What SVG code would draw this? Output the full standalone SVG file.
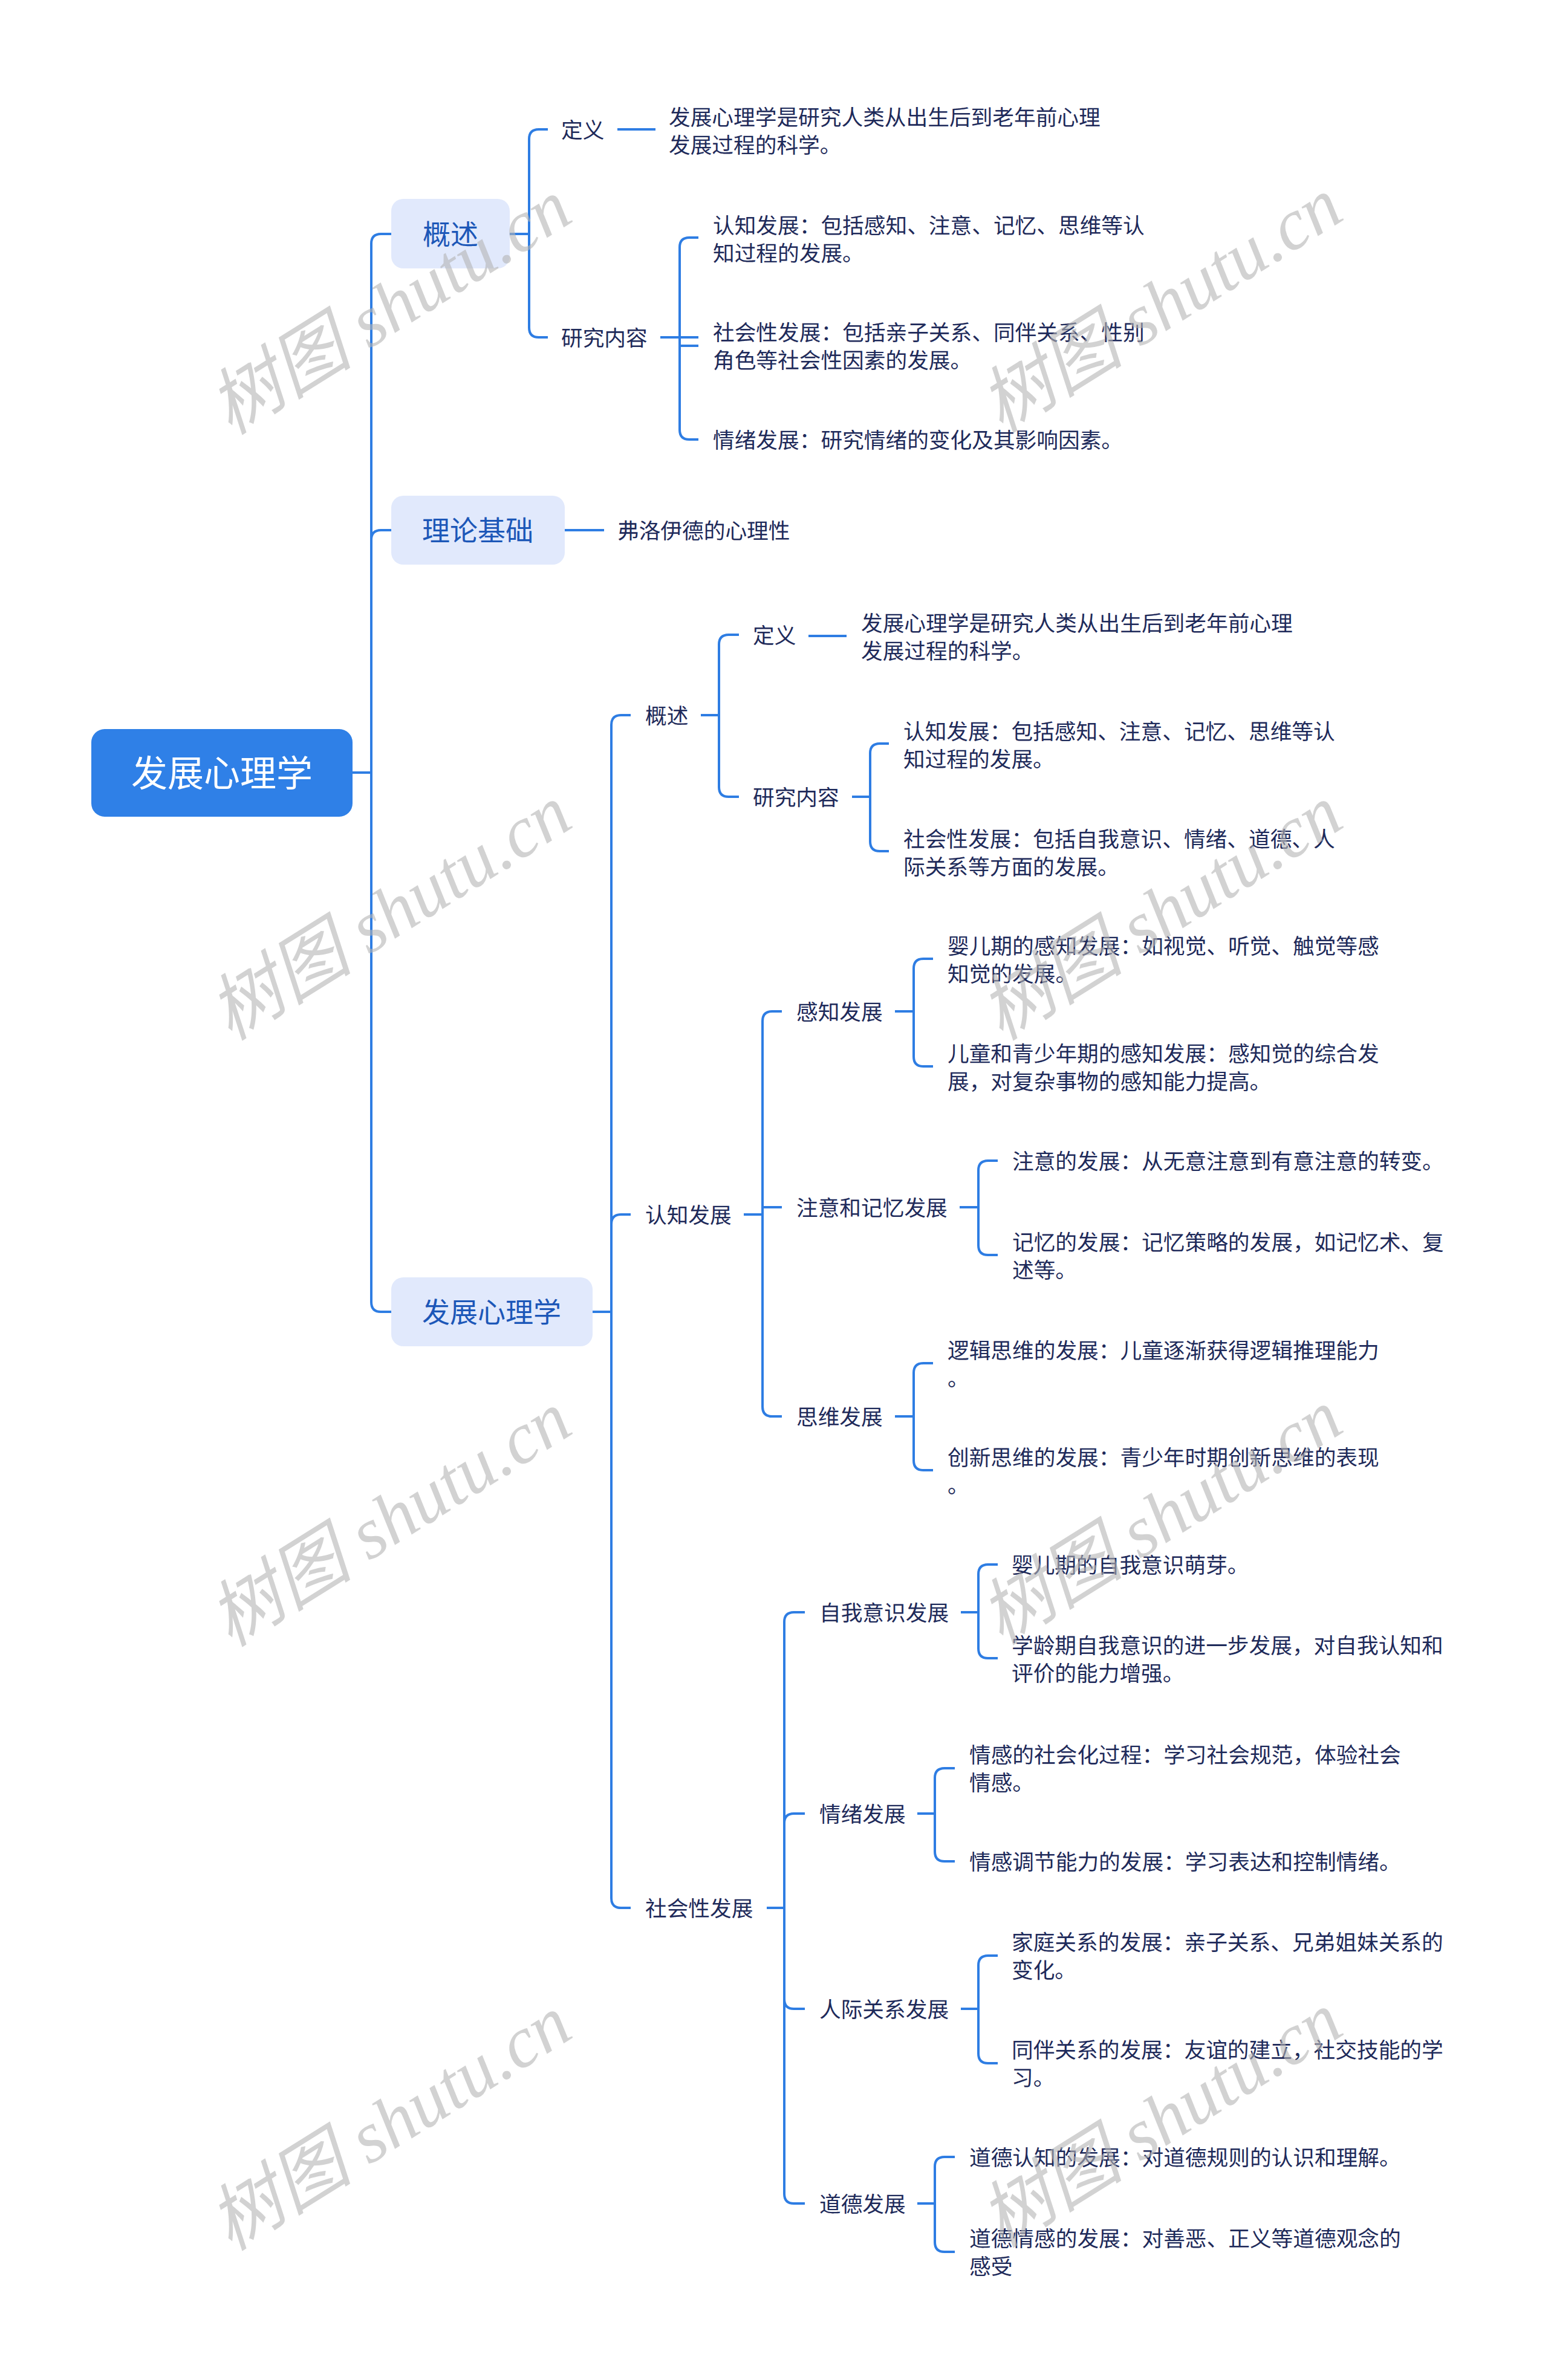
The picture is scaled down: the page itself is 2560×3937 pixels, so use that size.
<svg xmlns="http://www.w3.org/2000/svg" width="2560" height="3937" viewBox="0 0 2560 3937">
<style>
text{font-family:"Noto Sans CJK SC","Noto Sans",sans-serif;dominant-baseline:central}
.root{font-size:60px;fill:#ffffff;text-anchor:middle;transform:translate(0px,-4px)}
.l1{font-size:46px;fill:#1c57b8;text-anchor:middle;transform:translate(0px,-3px)}
.t{font-size:35.7px;fill:#1e2a5a;transform:translate(0px,-2px)}
.c{fill:none;stroke:#2e7de3;stroke-width:4;stroke-linecap:butt}
.wm{font-family:"Liberation Serif","Noto Sans CJK SC",serif;font-style:italic;font-size:120px;fill:#b4b4b4;fill-opacity:0.6;text-anchor:middle}
</style>
<rect width="2560" height="3937" fill="#ffffff"/>
<g id="connectors" class="c">
<path d="M583,1278 H614"/>
<path d="M614,1278 V403 Q614,387 630,387 H647"/>
<path d="M614,1278 V893 Q614,877 630,877 H647"/>
<path d="M614,1278 V2154 Q614,2170 630,2170 H647"/>
<path d="M843,387 H875"/>
<path d="M875,387 V230 Q875,214 891,214 H906"/>
<path d="M875,387 V542 Q875,558 891,558 H906"/>
<path d="M1021,214 H1084"/>
<path d="M1092,558 H1124"/>
<path d="M1124,558 V409 Q1124,393 1140,393 H1155"/>
<path d="M1124,558 H1155 M1124,558 V572 H1155"/>
<path d="M1124,558 V711 Q1124,727 1140,727 H1155"/>
<path d="M934,877 H999"/>
<path d="M980,2170 H1011"/>
<path d="M1011,2170 V1199 Q1011,1183 1027,1183 H1043"/>
<path d="M1011,2170 V2025 Q1011,2009 1027,2009 H1043"/>
<path d="M1011,2170 V3140 Q1011,3156 1027,3156 H1043"/>
<path d="M1159,1183 H1189"/>
<path d="M1189,1183 V1066 Q1189,1050 1205,1050 H1222"/>
<path d="M1189,1183 V1302 Q1189,1318 1205,1318 H1222"/>
<path d="M1337,1052 H1400"/>
<path d="M1409,1318 H1439"/>
<path d="M1439,1318 V1246 Q1439,1230 1455,1230 H1470"/>
<path d="M1439,1318 V1392 Q1439,1408 1455,1408 H1470"/>
<path d="M1230,2009 H1261"/>
<path d="M1261,2009 V1689 Q1261,1673 1277,1673 H1293"/>
<path d="M1261,2009 V1997 H1293"/>
<path d="M1261,2009 V2327 Q1261,2343 1277,2343 H1293"/>
<path d="M1480,1673 H1511"/>
<path d="M1511,1673 V1602 Q1511,1586 1527,1586 H1543"/>
<path d="M1511,1673 V1748 Q1511,1764 1527,1764 H1543"/>
<path d="M1587,1997 H1618"/>
<path d="M1618,1997 V1936 Q1618,1920 1634,1920 H1650"/>
<path d="M1618,1997 V2060 Q1618,2076 1634,2076 H1650"/>
<path d="M1480,2343 H1511"/>
<path d="M1511,2343 V2271 Q1511,2255 1527,2255 H1543"/>
<path d="M1511,2343 V2416 Q1511,2432 1527,2432 H1543"/>
<path d="M1268,3156 H1297"/>
<path d="M1297,3156 V2683 Q1297,2667 1313,2667 H1331"/>
<path d="M1297,3156 V3016 Q1297,3000 1313,3000 H1331"/>
<path d="M1297,3156 V3307 Q1297,3323 1313,3323 H1331"/>
<path d="M1297,3156 V3629 Q1297,3645 1313,3645 H1331"/>
<path d="M1589,2667 H1618"/>
<path d="M1618,2667 V2604 Q1618,2588 1634,2588 H1650"/>
<path d="M1618,2667 V2727 Q1618,2743 1634,2743 H1650"/>
<path d="M1517,3000 H1546"/>
<path d="M1546,3000 V2941 Q1546,2925 1562,2925 H1579"/>
<path d="M1546,3000 V3063 Q1546,3079 1562,3079 H1579"/>
<path d="M1589,3323 H1618"/>
<path d="M1618,3323 V3251 Q1618,3235 1634,3235 H1650"/>
<path d="M1618,3323 V3397 Q1618,3413 1634,3413 H1650"/>
<path d="M1517,3645 H1546"/>
<path d="M1546,3645 V3584 Q1546,3568 1562,3568 H1579"/>
<path d="M1546,3645 V3709 Q1546,3725 1562,3725 H1579"/>
</g>
<g id="root"><rect x="151" y="1206" width="432" height="145" rx="22" fill="#2f80e7"/><text class="root" x="367" y="1278">发展心理学</text></g>
<g id="n-gaishu"><rect x="647" y="329" width="196" height="115" rx="20" fill="#e1e9fc"/><text class="l1" x="745" y="387">概述</text></g>
<g id="n-lilun"><rect x="647" y="820" width="287" height="114" rx="20" fill="#e1e9fc"/><text class="l1" x="790" y="877">理论基础</text></g>
<g id="n-fazhan"><rect x="647" y="2113" width="333" height="114" rx="20" fill="#e1e9fc"/><text class="l1" x="813" y="2170">发展心理学</text></g>
<g id="n-dingyi1"><text class="t" x="928" y="214">定义</text></g>
<g id="n-dingyi1-leaf"><text class="t" x="1106" y="193">发展心理学是研究人类从出生后到老年前心理</text><text class="t" x="1106" y="239">发展过程的科学。</text></g>
<g id="n-yanjiu1"><text class="t" x="928" y="558">研究内容</text></g>
<g id="n-yj1-a"><text class="t" x="1179" y="372">认知发展：包括感知、注意、记忆、思维等认</text><text class="t" x="1179" y="418">知过程的发展。</text></g>
<g id="n-yj1-b"><text class="t" x="1179" y="549">社会性发展：包括亲子关系、同伴关系、性别</text><text class="t" x="1179" y="595">角色等社会性因素的发展。</text></g>
<g id="n-yj1-c"><text class="t" x="1179" y="727">情绪发展：研究情绪的变化及其影响因素。</text></g>
<g id="n-fluoyide"><text class="t" x="1021" y="877">弗洛伊德的心理性</text></g>
<g id="n-gaishu2"><text class="t" x="1067" y="1183">概述</text></g>
<g id="n-dingyi2"><text class="t" x="1245" y="1050">定义</text></g>
<g id="n-dingyi2-leaf"><text class="t" x="1424" y="1030">发展心理学是研究人类从出生后到老年前心理</text><text class="t" x="1424" y="1076">发展过程的科学。</text></g>
<g id="n-yanjiu2"><text class="t" x="1245" y="1318">研究内容</text></g>
<g id="n-yj2-a"><text class="t" x="1494" y="1209">认知发展：包括感知、注意、记忆、思维等认</text><text class="t" x="1494" y="1255">知过程的发展。</text></g>
<g id="n-yj2-b"><text class="t" x="1494" y="1387">社会性发展：包括自我意识、情绪、道德、人</text><text class="t" x="1494" y="1433">际关系等方面的发展。</text></g>
<g id="n-renzhi"><text class="t" x="1067" y="2009">认知发展</text></g>
<g id="n-ganzhi"><text class="t" x="1317" y="1673">感知发展</text></g>
<g id="n-gz-a"><text class="t" x="1567" y="1564">婴儿期的感知发展：如视觉、听觉、触觉等感</text><text class="t" x="1567" y="1610">知觉的发展。</text></g>
<g id="n-gz-b"><text class="t" x="1567" y="1742">儿童和青少年期的感知发展：感知觉的综合发</text><text class="t" x="1567" y="1788">展，对复杂事物的感知能力提高。</text></g>
<g id="n-zhuyi"><text class="t" x="1317" y="1997">注意和记忆发展</text></g>
<g id="n-zy-a"><text class="t" x="1674" y="1920">注意的发展：从无意注意到有意注意的转变。</text></g>
<g id="n-zy-b"><text class="t" x="1674" y="2054">记忆的发展：记忆策略的发展，如记忆术、复</text><text class="t" x="1674" y="2100">述等。</text></g>
<g id="n-siwei"><text class="t" x="1317" y="2343">思维发展</text></g>
<g id="n-sw-a"><text class="t" x="1567" y="2233">逻辑思维的发展：儿童逐渐获得逻辑推理能力</text><text class="t" x="1567" y="2279">。</text></g>
<g id="n-sw-b"><text class="t" x="1567" y="2410">创新思维的发展：青少年时期创新思维的表现</text><text class="t" x="1567" y="2456">。</text></g>
<g id="n-shehui"><text class="t" x="1067" y="3156">社会性发展</text></g>
<g id="n-ziwo"><text class="t" x="1355" y="2667">自我意识发展</text></g>
<g id="n-zw-a"><text class="t" x="1673" y="2588">婴儿期的自我意识萌芽。</text></g>
<g id="n-zw-b"><text class="t" x="1673" y="2721">学龄期自我意识的进一步发展，对自我认知和</text><text class="t" x="1673" y="2767">评价的能力增强。</text></g>
<g id="n-qingxu"><text class="t" x="1355" y="3000">情绪发展</text></g>
<g id="n-qx-a"><text class="t" x="1603" y="2902">情感的社会化过程：学习社会规范，体验社会</text><text class="t" x="1603" y="2948">情感。</text></g>
<g id="n-qx-b"><text class="t" x="1603" y="3079">情感调节能力的发展：学习表达和控制情绪。</text></g>
<g id="n-renji"><text class="t" x="1355" y="3323">人际关系发展</text></g>
<g id="n-rj-a"><text class="t" x="1673" y="3212">家庭关系的发展：亲子关系、兄弟姐妹关系的</text><text class="t" x="1673" y="3258">变化。</text></g>
<g id="n-rj-b"><text class="t" x="1673" y="3390">同伴关系的发展：友谊的建立，社交技能的学</text><text class="t" x="1673" y="3436">习。</text></g>
<g id="n-daode"><text class="t" x="1355" y="3645">道德发展</text></g>
<g id="n-dd-a"><text class="t" x="1603" y="3568">道德认知的发展：对道德规则的认识和理解。</text></g>
<g id="n-dd-b"><text class="t" x="1603" y="3702">道德情感的发展：对善恶、正义等道德观念的</text><text class="t" x="1603" y="3748">感受</text></g>
<g id="watermark">
<text class="wm" transform="translate(645,508) rotate(-32)">树图 shutu.cn</text>
<text class="wm" transform="translate(1920,505) rotate(-32)">树图 shutu.cn</text>
<text class="wm" transform="translate(645,1510) rotate(-32)">树图 shutu.cn</text>
<text class="wm" transform="translate(1920,1510) rotate(-32)">树图 shutu.cn</text>
<text class="wm" transform="translate(645,2513) rotate(-32)">树图 shutu.cn</text>
<text class="wm" transform="translate(1920,2510) rotate(-32)">树图 shutu.cn</text>
<text class="wm" transform="translate(645,3512) rotate(-32)">树图 shutu.cn</text>
<text class="wm" transform="translate(1920,3507) rotate(-32)">树图 shutu.cn</text>
</g>
</svg>
